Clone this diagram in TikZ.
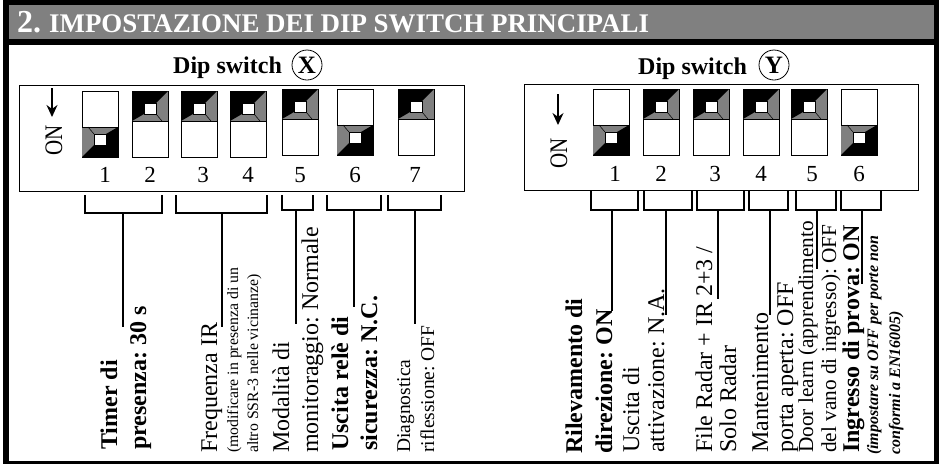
\documentclass[tikz,border=0pt]{standalone}
\usepackage{fontspec}
\setmainfont{Liberation Serif}
\usepackage{tikz}
\usetikzlibrary{arrows.meta}

\definecolor{bandgray}{gray}{0.5}
\frenchspacing

\tikzset{
    switchnum/.style={anchor=base, inner sep=0pt, font=\fontsize{23}{24}\selectfont},
    rotlabel/.style={anchor=base west, rotate=90, inner sep=0pt, font=\fontsize{24}{24}\selectfont},
    rotbold/.style={rotlabel, font=\fontsize{24}{24}\selectfont\bfseries},
    rotmid/.style={rotlabel, font=\fontsize{19.5}{20}\selectfont},
    rotsmall/.style={rotlabel, font=\fontsize{15.8}{16}\selectfont},
    rotnote/.style={rotlabel, font=\fontsize{16}{16}\selectfont\bfseries\itshape},
    heading/.style={anchor=base west, inner sep=0pt, font=\fontsize{24}{24}\selectfont\bfseries},
    letter/.style={circle, draw, line width=0.8pt, inner sep=0pt, minimum size=30pt, font=\fontsize{25}{25}\selectfont\bfseries},
    bracket/.style={line width=1.2pt},
    onarrow/.style={-{Stealth[length=12pt, width=11pt]}, line width=1.4pt},
}

% one switch, knob in the upper half, corner at the origin
\newcommand{\dipknob}{
    \draw[fill=white, line width=0.7pt] (0,0) rectangle (36,66);
    \fill[bandgray] (0,0) rectangle (36,30);
    \fill (0,0) -- (36,0) -- (24,12) -- (12,12) -- (12,23) -- (0,30) -- cycle;
    \draw[line width=0.5pt] (24,23) -- (30,30);
    \draw[line width=0.7pt] (0,30) -- (36,30);
    \draw[fill=white, line width=0.7pt] (12,12) rectangle (24,23);
}

\begin{document}
\begin{tikzpicture}[x=1pt, y=-1pt]
    \useasboundingbox (0,0) rectangle (939,464);

    % Frame and title band
    \fill (3,0) rectangle (939,464);
    \fill[white] (9,45) rectangle (934,461);
    \fill[bandgray] (9,5) rectangle (934,39);
    \node[anchor=base west, inner sep=0pt, text=white, font=\fontsize{32}{32}\selectfont\bfseries] (title) at (17,32)
        {2. \fontsize{26.9}{27}\selectfont IMPOSTAZIONE DEI DIP SWITCH PRINCIPALI};

    % Headings
    \node[heading] (headx) at (173,73) {Dip switch};
    \node[letter] (letterx) at (307,65) {X};
    \node[heading] (heady) at (638,74) {Dip switch};
    \node[letter] (lettery) at (774,65) {Y};

    % Switch boxes
    \draw[line width=0.7pt] (19,85) rectangle (464,191);
    \draw[line width=0.7pt] (524,84) rectangle (918,190);

    % Switches up
    \foreach \x/\y in {132/91, 181/91, 230/91, 282/89, 398/89, 643/89, 693/89, 743/89, 791/89} {
        \begin{scope}[shift={(\x,\y)}]
            \dipknob
        \end{scope}
    }
    % Switches down
    \foreach \x/\y in {118/157, 373/155, 629/155, 877/155} {
        \begin{scope}[shift={(\x,\y)}, rotate=180]
            \dipknob
        \end{scope}
    }

    % Switch numbers
    \foreach \x/\n in {105/1, 150/2, 203/3, 248/4, 300/5, 355/6, 415/7} {
        \node[switchnum] (numx\n) at (\x,182) {\n};
    }
    \foreach \x/\n in {615/1, 661/2, 715/3, 761/4, 812/5, 859/6} {
        \node[switchnum] (numy\n) at (\x,181) {\n};
    }

    % ON arrows
    \coordinate (onxa) at (52,88);
    \coordinate (onxb) at (52,117);
    \coordinate (onya) at (558,94);
    \coordinate (onyb) at (558,125);
    \draw[onarrow] (onxa) -- (onxb);
    \draw[onarrow] (onya) -- (onyb);
    \node[rotlabel, font=\fontsize{21}{22}\selectfont] (onx) at (62,156) {\scalebox{1}[1.2]{ON}};
    \node[rotlabel, font=\fontsize{21}{22}\selectfont] (ony) at (567,169) {\scalebox{1}[1.2]{ON}};

    % Brackets and stems
    \foreach \name/\a/\b/\bot/\s/\e in {xa/85/162/213/123/327, xb/176/267/213/222/327, xc/282/313/210/296/324,
        xd/327/381/210/354/307, xe/388/441/210/415/324} {
        \coordinate (\name l) at (\a,195);
        \coordinate (\name r) at (\b,195);
        \coordinate (\name s) at (\s,\bot);
        \coordinate (\name t) at (\s,\e);
        \draw[bracket] (\name l) |- (\name s) -| (\name r);
        \draw[bracket] (\name s) -- (\name t);
    }
    \foreach \name/\a/\b/\s/\e in {ya/591/638/612/311, yb/644/692/666/315, yc/697/744/718/299,
        yd/749/788/770/315, ye/796/836/817/269, yf/841/881/862/284} {
        \coordinate (\name l) at (\a,191);
        \coordinate (\name r) at (\b,191);
        \coordinate (\name s) at (\s,210);
        \coordinate (\name t) at (\s,\e);
        \draw[bracket] (\name l) |- (\name s) -| (\name r);
        \draw[bracket] (\name s) -- (\name t);
    }

    % Labels of dip switch X
    \node[rotbold] (timera) at (117,450) {Timer di};
    \node[rotbold] (timerb) at (146,450) {presenza: 30 s};
    \node[rotlabel] (freqa) at (217,453) {Frequenza IR};
    \node[rotsmall] (freqb) at (238,453) {(modificare in presenza di un};
    \node[rotsmall] (freqc) at (258,453) {altro SSR-3 nelle vicinanze)};
    \node[rotlabel] (moda) at (289,453) {Modalità di};
    \node[rotlabel] (modb) at (318,453) {monitoraggio: Normale};
    \node[rotbold] (usca) at (348,451) {Uscita relè di};
    \node[rotbold] (uscb) at (377,451) {sicurezza: N.C.};
    \node[rotmid] (diaa) at (410,453) {Diagnostica};
    \node[rotmid] (diab) at (434,453) {riflessione: OFF};

    % Labels of dip switch Y
    \node[rotbold] (rila) at (582,454) {Rilevamento di};
    \node[rotbold] (rilb) at (612,454) {direzione: ON};
    \node[rotlabel] (atta) at (639,453) {Uscita di};
    \node[rotlabel] (attb) at (664,453) {attivazione: N.A.};
    \node[rotlabel] (radara) at (712,453) {File Radar + IR 2+3 /};
    \node[rotlabel] (radarb) at (736,453) {Solo Radar};
    \node[rotlabel] (mana) at (768,453) {Mantenimento};
    \node[rotlabel] (manb) at (793,453) {porta aperta: OFF};
    \node[rotlabel, font=\fontsize{21.3}{22}\selectfont] (doora) at (813,453) {Door learn (apprendimento};
    \node[rotlabel, font=\fontsize{21.3}{22}\selectfont] (doorb) at (836,453) {del vano di ingresso): OFF};
    \node[rotbold] (prova) at (859,453) {Ingresso di prova: ON};
    \node[rotnote] (provb) at (878,455) {(impostare su OFF per porte non};
    \node[rotnote] (provc) at (900,455) {conformi a EN16005)};
\end{tikzpicture}
\end{document}
